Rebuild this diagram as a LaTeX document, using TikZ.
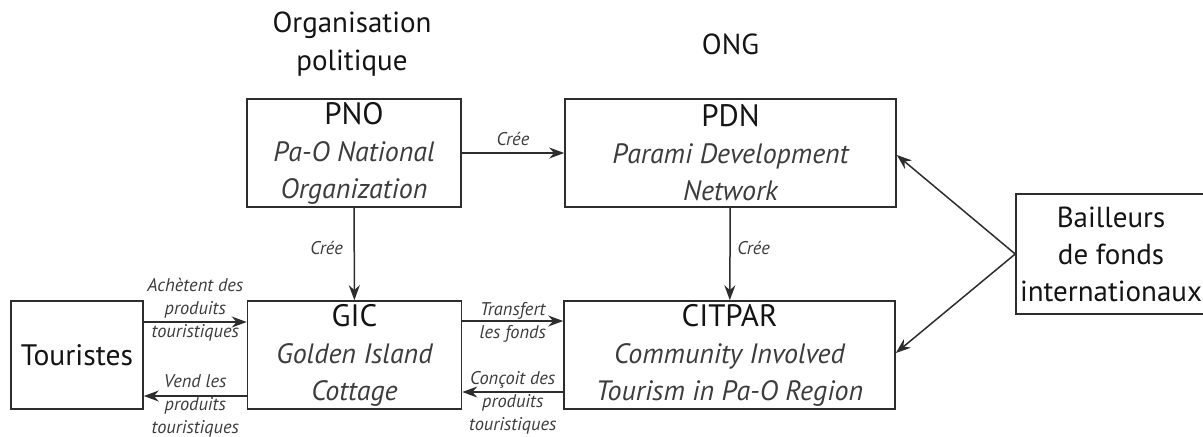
\documentclass[tikz,border=0pt]{standalone}
\usepackage{fontspec}
\setmainfont{PT Sans}
\usetikzlibrary{arrows.meta,positioning}
\definecolor{lineclr}{RGB}{45,45,45}
\definecolor{txtclr}{RGB}{20,20,20}
\definecolor{itclr}{RGB}{60,60,60}
\newcommand{\fullname}[1]{{\color{itclr}\itshape #1}}
\newcommand{\acro}[1]{{\fontsize{15.5}{18.5}\selectfont #1}}
\tikzset{
  orgbox/.style={rectangle,draw=lineclr,line width=0.8pt,inner sep=0pt,
    minimum height=54pt,align=center,text=txtclr,
    font=\fontsize{14}{18.5}\selectfont},
  smallbox/.style={orgbox,minimum width=107pt},
  widebox/.style={orgbox,minimum width=165.5pt},
  head/.style={font=\fontsize{14.5}{19}\selectfont,align=center,text=txtclr},
  arr/.style={-{Stealth[length=7.5pt,width=5.5pt]},line width=0.75pt,color=lineclr},
  lbl/.style={font=\fontsize{9.2}{11.5}\selectfont\itshape,color=itclr,align=center},
}
\begin{document}
\begin{tikzpicture}[x=0.5pt,y=-0.5pt]
  \useasboundingbox (0,0) rectangle (1203,436);
  % organisations
  \node[smallbox] (pno)    at (354,153)   {\acro{PNO}\\\fullname{Pa-O National}\\\fullname{Organization}};
  \node[widebox]  (pdn)    at (730.5,153) {\acro{PDN}\\\fullname{Parami Development}\\\fullname{Network}};
  \node[smallbox] (gic)    at (354.5,355) {\acro{GIC}\\\fullname{Golden Island}\\\fullname{Cottage}};
  \node[widebox]  (citpar) at (729.5,355) {\acro{CITPAR}\\\fullname{Community Involved}\\\fullname{Tourism in Pa-O Region}};
  \node[orgbox,minimum width=66pt,font=\fontsize{14.8}{18}\selectfont] (tour) at (77,355) {Touristes};
  \node[orgbox,minimum width=95pt,minimum height=60pt,
        font=\fontsize{14.5}{18.5}\selectfont] (baill) at (1111,254) {Bailleurs\\de fonds\\internationaux};
  % column headings
  \node[head] (polhd) at (352,44) {Organisation\\politique};
  \node[head] (ngohd) at (pdn.north |- polhd) {ONG};

  \draw[arr] (pno) -- node[lbl,above]{Crée} (pdn);
  \draw[arr] (pno) -- node[lbl,left=2pt,pos=0.43]{Crée} (gic);
  \draw[arr] (pdn) -- node[lbl,right,pos=0.43]{Crée} (citpar);
  \draw[arr] ([yshift=16.5pt]tour.east) -- node[lbl,yshift=6pt]{Achètent des\\produits\\touristiques} ([yshift=16.5pt]gic.west);
  \draw[arr] ([yshift=-20.5pt]gic.west) -- node[lbl,yshift=-5pt]{Vend les\\produits\\touristiques} ([yshift=-20.5pt]tour.east);
  \draw[arr] ([yshift=17pt]gic.east) -- node[lbl,yshift=-0.5pt]{Transfert\\les fonds} ([yshift=17pt]citpar.west);
  \draw[arr] ([yshift=-18.5pt]citpar.west) -- node[lbl,yshift=-5.5pt]{Conçoit des\\produits\\touristiques} ([yshift=-18.5pt]gic.east);
  \draw[arr] (baill.west) -- ([yshift=-1pt]pdn.east);
  \draw[arr] (baill.west) -- ([yshift=1pt]citpar.east);
\end{tikzpicture}
\end{document}
